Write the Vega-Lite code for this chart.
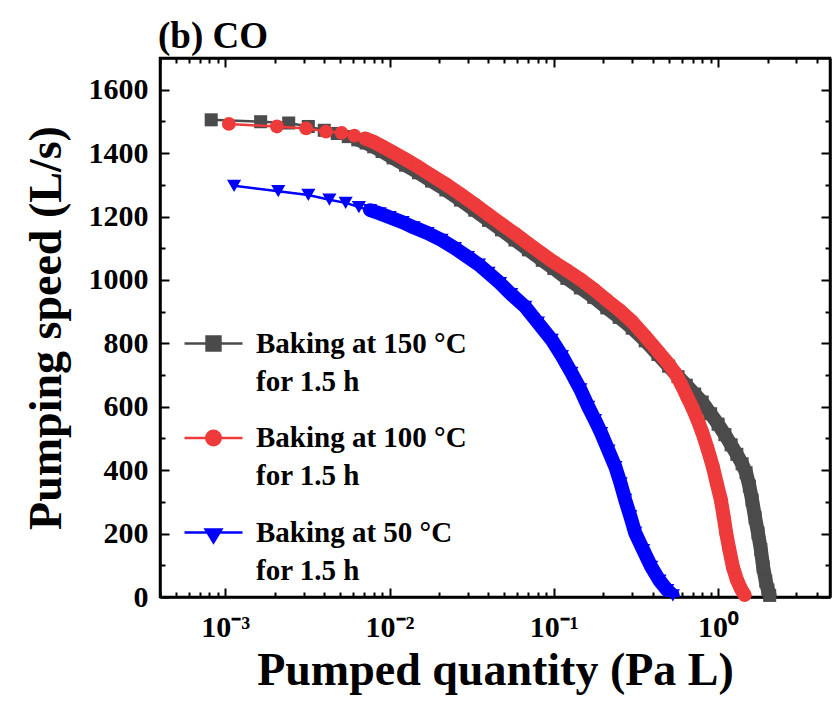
{
  "$schema": "https://vega.github.io/schema/vega-lite/v6.json",
  "width": 670,
  "height": 539,
  "autosize": {"type": "none"},
  "padding": {"left": 160, "top": 58, "right": 5, "bottom": 109},
  "background": "white",
  "title": {"text": "(b) CO", "anchor": "start", "frame": "group", "font": "Liberation Serif", "fontSize": 37, "fontWeight": "bold", "color": "black", "offset": 1, "dx": -2},
  "config": {
    "view": {"stroke": "black", "strokeWidth": 2.5},
    "axis": {"domainColor": "black", "domainWidth": 2.5, "tickColor": "black", "tickWidth": 2, "labelFont": "Liberation Serif", "labelFontSize": 30, "labelFontWeight": "bold", "labelColor": "black", "titleFont": "Liberation Serif", "titleFontWeight": "bold", "titleColor": "black", "titleFontSize": 46, "grid": false, "labelOverlap": false}
  },
  "datasets": {
    "d": [
      {"s": "150", "x": 0.00082, "y": 1505},
      {"s": "150", "x": 0.00164, "y": 1499},
      {"s": "150", "x": 0.00243, "y": 1495},
      {"s": "150", "x": 0.0032, "y": 1484},
      {"s": "150", "x": 0.0040, "y": 1472},
      {"s": "150", "x": 0.0048, "y": 1462},
      {"s": "150", "x": 0.0056, "y": 1452},
      {"s": "150", "x": 0.0064, "y": 1442},
      {"s": "150", "x": 0.0072, "y": 1432},
      {"s": "150", "x": 0.0080, "y": 1420},
      {"s": "150", "x": 0.0090, "y": 1405},
      {"s": "150", "x": 0.0105, "y": 1385},
      {"s": "150", "x": 0.0125, "y": 1362},
      {"s": "150", "x": 0.015, "y": 1338},
      {"s": "150", "x": 0.018, "y": 1312},
      {"s": "150", "x": 0.022, "y": 1284},
      {"s": "150", "x": 0.027, "y": 1252},
      {"s": "150", "x": 0.033, "y": 1220},
      {"s": "150", "x": 0.040, "y": 1188},
      {"s": "150", "x": 0.048, "y": 1158},
      {"s": "150", "x": 0.058, "y": 1126},
      {"s": "150", "x": 0.070, "y": 1095},
      {"s": "150", "x": 0.085, "y": 1062},
      {"s": "150", "x": 0.10, "y": 1036},
      {"s": "150", "x": 0.12, "y": 1005},
      {"s": "150", "x": 0.145, "y": 975},
      {"s": "150", "x": 0.175, "y": 945},
      {"s": "150", "x": 0.21, "y": 912},
      {"s": "150", "x": 0.25, "y": 882},
      {"s": "150", "x": 0.30, "y": 848},
      {"s": "150", "x": 0.36, "y": 808},
      {"s": "150", "x": 0.43, "y": 765},
      {"s": "150", "x": 0.50, "y": 728},
      {"s": "150", "x": 0.57, "y": 695},
      {"s": "150", "x": 0.64, "y": 668},
      {"s": "150", "x": 0.72, "y": 640},
      {"s": "150", "x": 0.80, "y": 615},
      {"s": "150", "x": 0.90, "y": 578},
      {"s": "150", "x": 1.00, "y": 545},
      {"s": "150", "x": 1.10, "y": 512},
      {"s": "150", "x": 1.20, "y": 480},
      {"s": "150", "x": 1.30, "y": 450},
      {"s": "150", "x": 1.40, "y": 420},
      {"s": "150", "x": 1.48, "y": 392},
      {"s": "150", "x": 1.55, "y": 350},
      {"s": "150", "x": 1.61, "y": 306},
      {"s": "150", "x": 1.68, "y": 250},
      {"s": "150", "x": 1.75, "y": 202},
      {"s": "150", "x": 1.82, "y": 150},
      {"s": "150", "x": 1.88, "y": 95},
      {"s": "150", "x": 1.95, "y": 50},
      {"s": "150", "x": 2.01, "y": 22},
      {"s": "150", "x": 2.06, "y": 5},
      {"s": "100", "x": 0.00105, "y": 1492},
      {"s": "100", "x": 0.00206, "y": 1484},
      {"s": "100", "x": 0.0031, "y": 1478},
      {"s": "100", "x": 0.0041, "y": 1468},
      {"s": "100", "x": 0.0051, "y": 1464},
      {"s": "100", "x": 0.0061, "y": 1455},
      {"s": "100", "x": 0.0071, "y": 1446},
      {"s": "100", "x": 0.0081, "y": 1434},
      {"s": "100", "x": 0.0091, "y": 1420},
      {"s": "100", "x": 0.0105, "y": 1402},
      {"s": "100", "x": 0.0125, "y": 1380},
      {"s": "100", "x": 0.015, "y": 1356},
      {"s": "100", "x": 0.018, "y": 1330},
      {"s": "100", "x": 0.022, "y": 1302},
      {"s": "100", "x": 0.027, "y": 1270},
      {"s": "100", "x": 0.033, "y": 1238},
      {"s": "100", "x": 0.040, "y": 1206},
      {"s": "100", "x": 0.048, "y": 1176},
      {"s": "100", "x": 0.058, "y": 1146},
      {"s": "100", "x": 0.070, "y": 1114},
      {"s": "100", "x": 0.085, "y": 1082},
      {"s": "100", "x": 0.10, "y": 1056},
      {"s": "100", "x": 0.12, "y": 1030},
      {"s": "100", "x": 0.145, "y": 1002},
      {"s": "100", "x": 0.175, "y": 970},
      {"s": "100", "x": 0.21, "y": 936},
      {"s": "100", "x": 0.25, "y": 905},
      {"s": "100", "x": 0.30, "y": 868},
      {"s": "100", "x": 0.36, "y": 822},
      {"s": "100", "x": 0.43, "y": 775},
      {"s": "100", "x": 0.50, "y": 735},
      {"s": "100", "x": 0.55, "y": 705},
      {"s": "100", "x": 0.60, "y": 668},
      {"s": "100", "x": 0.65, "y": 630},
      {"s": "100", "x": 0.70, "y": 595},
      {"s": "100", "x": 0.75, "y": 558},
      {"s": "100", "x": 0.80, "y": 520},
      {"s": "100", "x": 0.86, "y": 470},
      {"s": "100", "x": 0.93, "y": 410},
      {"s": "100", "x": 0.98, "y": 360},
      {"s": "100", "x": 1.04, "y": 306},
      {"s": "100", "x": 1.08, "y": 255},
      {"s": "100", "x": 1.12, "y": 202},
      {"s": "100", "x": 1.17, "y": 150},
      {"s": "100", "x": 1.23, "y": 95},
      {"s": "100", "x": 1.30, "y": 55},
      {"s": "100", "x": 1.38, "y": 25},
      {"s": "100", "x": 1.45, "y": 6},
      {"s": "50", "x": 0.00113, "y": 1297},
      {"s": "50", "x": 0.0021, "y": 1280},
      {"s": "50", "x": 0.0032, "y": 1268},
      {"s": "50", "x": 0.0043, "y": 1253},
      {"s": "50", "x": 0.0054, "y": 1243},
      {"s": "50", "x": 0.0065, "y": 1230},
      {"s": "50", "x": 0.0076, "y": 1220},
      {"s": "50", "x": 0.0087, "y": 1210},
      {"s": "50", "x": 0.0100, "y": 1198},
      {"s": "50", "x": 0.012, "y": 1182},
      {"s": "50", "x": 0.014, "y": 1166},
      {"s": "50", "x": 0.017, "y": 1148},
      {"s": "50", "x": 0.0207, "y": 1126},
      {"s": "50", "x": 0.025, "y": 1100},
      {"s": "50", "x": 0.030, "y": 1072},
      {"s": "50", "x": 0.035, "y": 1048},
      {"s": "50", "x": 0.040, "y": 1022},
      {"s": "50", "x": 0.047, "y": 990},
      {"s": "50", "x": 0.055, "y": 955},
      {"s": "50", "x": 0.067, "y": 915},
      {"s": "50", "x": 0.080, "y": 865},
      {"s": "50", "x": 0.097, "y": 811},
      {"s": "50", "x": 0.112, "y": 760},
      {"s": "50", "x": 0.128, "y": 707},
      {"s": "50", "x": 0.145, "y": 655},
      {"s": "50", "x": 0.162, "y": 600},
      {"s": "50", "x": 0.178, "y": 558},
      {"s": "50", "x": 0.194, "y": 517},
      {"s": "50", "x": 0.215, "y": 462},
      {"s": "50", "x": 0.237, "y": 410},
      {"s": "50", "x": 0.255, "y": 358},
      {"s": "50", "x": 0.272, "y": 306},
      {"s": "50", "x": 0.292, "y": 255},
      {"s": "50", "x": 0.313, "y": 202},
      {"s": "50", "x": 0.35, "y": 148},
      {"s": "50", "x": 0.392, "y": 95},
      {"s": "50", "x": 0.44, "y": 52},
      {"s": "50", "x": 0.49, "y": 22},
      {"s": "50", "x": 0.53, "y": 5}
    ]
  },
  "data": {"name": "d"},
  "encoding": {
    "x": {"field": "x", "type": "quantitative", "scale": {"type": "log", "domain": [0.0004, 4.8], "nice": false}, "axis": null},
    "y": {"field": "y", "type": "quantitative", "scale": {"domain": [0, 1700], "nice": false, "zero": false}, "axis": null},
    "color": {
      "field": "s", "type": "nominal",
      "scale": {"domain": ["150", "100", "50"], "range": ["#4b4b4b", "#ee3a3a", "#0000fe"]},
      "legend": {
        "orient": "none", "legendX": 23, "legendY": 255, "title": null, "padding": 0,
        "labelFont": "Liberation Serif", "labelFontSize": 29, "labelFontWeight": "bold", "labelColor": "black", "labelLimit": 500,
        "labelExpr": "['Baking at ' + datum.label + ' °C', 'for 1.5 h']",
        "symbolSize": 3364, "symbolStrokeWidth": 2.5, "labelOffset": 12, "rowPadding": 10.5,
        "encode": {
          "symbols": {"update": {
            "shape": {"signal": "datum.value == '150' ? 'M-1,0H1M-0.24,-0.24H0.24V0.24H-0.24Z' : datum.value == '100' ? 'M-1,0H1M-0.25,0A0.25,0.25,0,1,1,0.25,0A0.25,0.25,0,1,1,-0.25,0Z' : 'M-1,0H1M-0.27,-0.1H0.27L0,0.34Z'"},
            "fill": {"signal": "datum.value == '150' ? '#4b4b4b' : datum.value == '100' ? '#ee3a3a' : '#0000fe'"},
            "stroke": {"signal": "datum.value == '150' ? '#4b4b4b' : datum.value == '100' ? '#ee3a3a' : '#0000fe'"},
            "opacity": {"value": 1},
            "strokeWidth": {"value": 2.5}
          }},
          "labels": {"update": {"lineHeight": {"value": 38}}}
        }
      }
    }
  },
  "layer": [
    {"transform": [{"filter": "datum.s == '50' && datum.x >= 0.0075"}], "mark": {"type": "line", "strokeWidth": 14, "strokeCap": "round", "strokeJoin": "round", "clip": true}},
    {"transform": [{"filter": "datum.s == '50'"}], "mark": {"type": "line", "strokeWidth": 2.5},
     "encoding": {
       "x": {"field": "x", "type": "quantitative", "scale": {"type": "log", "domain": [0.0004, 4.8], "nice": false},
             "axis": {"orient": "bottom", "title": "Pumped quantity (Pa L)", "titlePadding": 2,
                      "values": [0.0004,0.0005,0.0006,0.0007,0.0008,0.0009,0.001,0.002,0.003,0.004,0.005,0.006,0.007,0.008,0.009,0.01,0.02,0.03,0.04,0.05,0.06,0.07,0.08,0.09,0.1,0.2,0.3,0.4,0.5,0.6,0.7,0.8,0.9,1,2,3,4],
                      "tickSize": {"condition": {"test": "datum.value == 0.001 || datum.value == 0.01 || datum.value == 0.1 || datum.value == 1", "value": -9}, "value": -5},
                      "labelPadding": 24,
                      "labelExpr": "datum.value == 0.001 ? '10⁻³' : datum.value == 0.01 ? '10⁻²' : datum.value == 0.1 ? '10⁻¹' : datum.value == 1 ? '10⁰' : ''"}},
       "y": {"field": "y", "type": "quantitative", "scale": {"domain": [0, 1700], "nice": false, "zero": false},
             "axis": {"orient": "left", "title": "Pumping speed (L/s)", "titlePadding": 18, "format": "d",
                      "values": [0,100,200,300,400,500,600,700,800,900,1000,1100,1200,1300,1400,1500,1600],
                      "tickSize": {"condition": {"test": "floor(datum.value / 200) * 200 == datum.value", "value": -9}, "value": -5},
                      "labelPadding": 21,
                      "labelExpr": "floor(datum.value / 200) * 200 == datum.value ? datum.label : ''"}}
     }},
    {"transform": [{"filter": "datum.s == '50'"}], "mark": {"type": "point", "filled": true, "size": 200, "opacity": 1, "shape": "triangle-down"}},
    {"transform": [{"filter": "datum.s == '150' && datum.x >= 0.006"}], "mark": {"type": "line", "strokeWidth": 14, "strokeCap": "round", "strokeJoin": "round", "clip": true}},
    {"transform": [{"filter": "datum.s == '150'"}], "mark": {"type": "line", "strokeWidth": 2.5},
     "encoding": {
       "x": {"field": "x", "type": "quantitative", "scale": {"type": "log", "domain": [0.0004, 4.8], "nice": false},
             "axis": {"orient": "top", "title": null, "labels": false,
                      "values": [0.0004,0.0005,0.0006,0.0007,0.0008,0.0009,0.001,0.002,0.003,0.004,0.005,0.006,0.007,0.008,0.009,0.01,0.02,0.03,0.04,0.05,0.06,0.07,0.08,0.09,0.1,0.2,0.3,0.4,0.5,0.6,0.7,0.8,0.9,1,2,3,4],
                      "tickSize": {"condition": {"test": "datum.value == 0.001 || datum.value == 0.01 || datum.value == 0.1 || datum.value == 1", "value": -9}, "value": -5}}},
       "y": {"field": "y", "type": "quantitative", "scale": {"domain": [0, 1700], "nice": false, "zero": false},
             "axis": {"orient": "right", "title": null, "labels": false,
                      "values": [0,100,200,300,400,500,600,700,800,900,1000,1100,1200,1300,1400,1500,1600],
                      "tickSize": {"condition": {"test": "floor(datum.value / 200) * 200 == datum.value", "value": -9}, "value": -5}}}
     }},
    {"transform": [{"filter": "datum.s == '150'"}], "mark": {"type": "point", "filled": true, "size": 170, "opacity": 1, "shape": "square"}},
    {"transform": [{"filter": "datum.s == '100' && datum.x >= 0.007"}], "mark": {"type": "line", "strokeWidth": 14, "strokeCap": "round", "strokeJoin": "round", "clip": true}},
    {"transform": [{"filter": "datum.s == '100'"}], "mark": {"type": "line", "strokeWidth": 2.5}},
    {"transform": [{"filter": "datum.s == '100'"}], "mark": {"type": "point", "filled": true, "size": 190, "opacity": 1, "shape": "circle"}}
  ]
}
